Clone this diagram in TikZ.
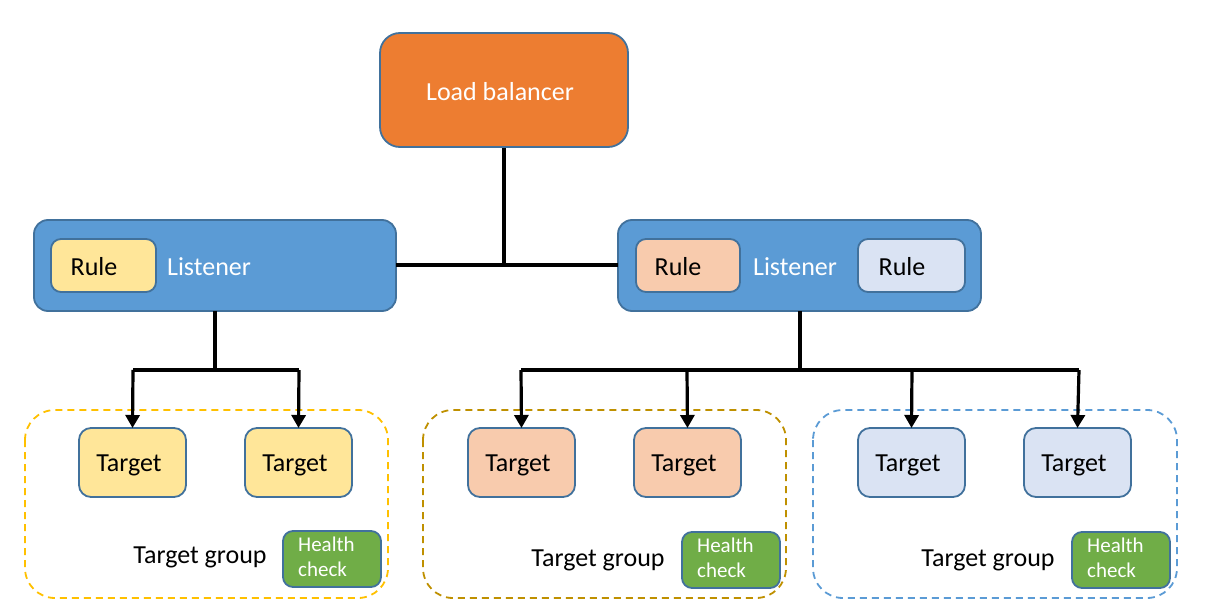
\documentclass[tikz,border=0pt]{standalone}
\usepackage{fontspec}
\setmainfont{Carlito}
\usetikzlibrary{arrows.meta}
\definecolor{lborange}{HTML}{ED7D31}
\definecolor{bordblue}{HTML}{41719C}
\definecolor{lisblue}{HTML}{5B9BD5}
\definecolor{ryellow}{HTML}{FFE699}
\definecolor{rpeach}{HTML}{F8CBAD}
\definecolor{rlblue}{HTML}{DAE3F3}
\definecolor{hgreen}{HTML}{70AD47}
\definecolor{gold}{HTML}{FFC000}
\definecolor{dgold}{HTML}{BF9000}
\begin{document}
\begin{tikzpicture}[x=1pt,y=-1pt,
  box/.style={draw=bordblue,line width=1.8pt,rounded corners=#1},
  box/.default=10pt,
  conn/.style={draw=black,line width=3.2pt},
  arr/.style={conn,-{Triangle[length=13pt,width=14pt]}},
  grp/.style={line width=1.8pt,dash pattern=on 7pt off 5pt,rounded corners=30pt},
  txt/.style={font=\fontsize{26}{28}\selectfont},
  htxt/.style={font=\fontsize{21}{25}\selectfont,text=white,align=left}]
\useasboundingbox (0,0) rectangle (1216,615);
% group boxes
\draw[grp,draw=gold] (25,410) rectangle (388,598);
\draw[grp,draw=dgold] (423,410) rectangle (786,598);
\draw[grp,draw=lisblue] (813,410) rectangle (1177,598);
% load balancer
\path[box=20pt,fill=lborange] (380,33) rectangle (628,147);
\node[txt,text=white] (lb) at (500,92) {Load balancer};
\coordinate (lbb) at (504,148);
% listeners
\path[box=14pt,fill=lisblue] (34,220) rectangle (396,311);
\coordinate (l1r) at (396,265);
\coordinate (l1b) at (215,311);
\path[box=14pt,fill=lisblue] (618,220) rectangle (981,311);
\coordinate (l2l) at (618,265);
\coordinate (l2b) at (800,311);
\path[box=10pt,fill=ryellow] (51,239) rectangle (156,292);
\node[txt] (r1) at (94,267) {Rule};
\node[txt,text=white] (lt1) at (209,267) {Listener};
\path[box=10pt,fill=rpeach] (636,239) rectangle (740,292);
\node[txt] (r2) at (678,267) {Rule};
\node[txt,text=white] (lt2) at (795,267) {Listener};
\path[box=10pt,fill=rlblue] (858,239) rectangle (965,292);
\node[txt] (r3) at (902,267) {Rule};
% targets
\foreach \n/\x/\c in {t1/79/ryellow,t2/245/ryellow,t3/468/rpeach,t4/634/rpeach,t5/858/rlblue,t6/1024/rlblue}{
  \path[box=12pt,fill=\c] (\x,428) rectangle ++(107,69);
  \coordinate (\n) at ({\x+53.5},428);
  \node[txt] at ({\x+50},465) {Target};
}
% target group labels and health checks
\node[txt] (g1) at (200,557) {Target group};
\node[txt] (g2) at (598,560) {Target group};
\node[txt] (g3) at (988,560) {Target group};
\foreach \x/\y in {283/531,682/532,1072/532}{
  \path[box=10pt,fill=hgreen] (\x,\y) rectangle ++(98,56);
  \node[htxt,anchor=north west,inner sep=0pt] at ({\x+15},{\y+6}) {Health\\check};
}
% connectors
\draw[conn] (lbb) -- (504,265);
\draw[conn] (l1r) -- (l2l);
\draw[conn] (l1b) -- (215,370);
\draw[conn] (133,370) -- (299,370);
\draw[arr] (133,370) -- (t1);
\draw[arr] (299,370) -- (t2);
\draw[conn] (l2b) -- (800,370);
\draw[conn] (521,370) -- (1079,370);
\draw[arr] (521,370) -- (t3);
\draw[arr] (687,370) -- (t4);
\draw[arr] (912,370) -- (t5);
\draw[arr] (1079,370) -- (t6);
\end{tikzpicture}
\end{document}
